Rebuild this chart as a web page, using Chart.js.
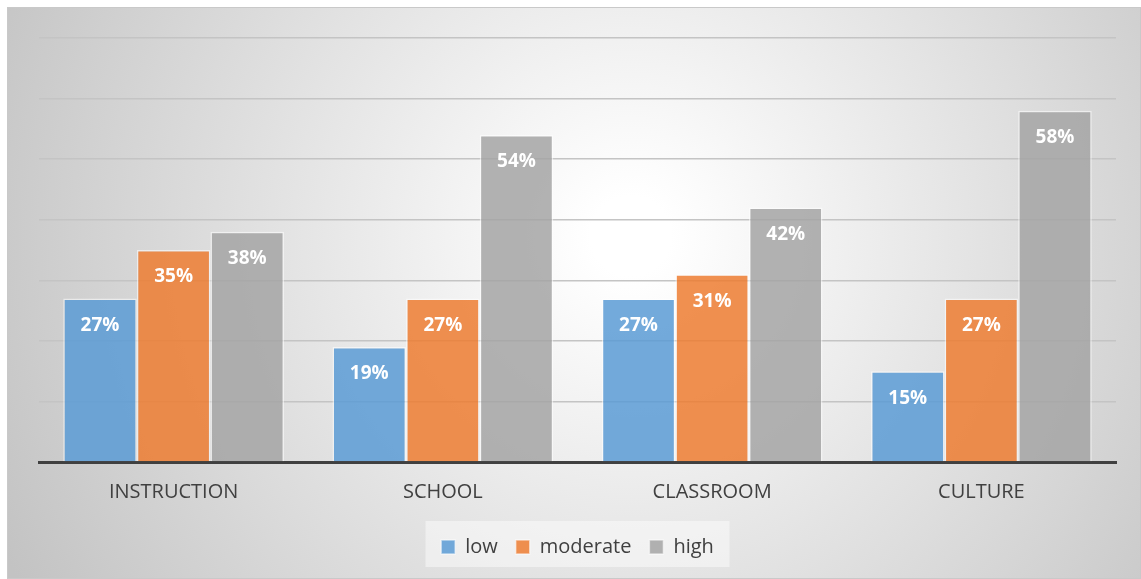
<!DOCTYPE html>
<html>
<head>
<meta charset="utf-8">
<script src="https://cdn.jsdelivr.net/npm/chart.js@4/dist/chart.umd.min.js"></script>
<style>
  html, body { margin: 0; padding: 0; background: #fff; }
  #wrap { position: absolute; left: 7px; top: 7px; width: 1132px; height: 570px; border: 1px solid #c9c9c9; }
</style>
</head>
<body>
<div id="wrap"><canvas id="chart" width="1132" height="570"></canvas></div>
<script>
// data
const categories = ['INSTRUCTION', 'SCHOOL', 'CLASSROOM', 'CULTURE']
const low = [27, 19, 27, 15]
const moderate = [35, 27, 31, 27]
const high = [38, 54, 42, 58]

const FONT = '"Open Sans", "Noto Sans", sans-serif'

// radial grey background + legend box
const background = {
  id: 'background',
  beforeDraw(chart) {
    const { ctx, width, height } = chart
    const g = ctx.createRadialGradient(width * 0.55, height * 0.4, 40, width * 0.55, height * 0.4, width * 0.62)
    g.addColorStop(0, '#ffffff')
    g.addColorStop(1, '#c3c3c3')
    ctx.save()
    ctx.fillStyle = g
    ctx.fillRect(0, 0, width, height)
    const lg = chart.legend
    ctx.fillStyle = 'rgba(255,255,255,0.45)'
    ctx.fillRect(lg.left + (lg.width - 304) / 2, lg.top + 2, 304, 46)
    ctx.restore()
  }
}

// white value labels inside the top of each bar
const valueLabels = {
  id: 'valueLabels',
  afterDatasetsDraw(chart) {
    const { ctx } = chart
    ctx.save()
    ctx.fillStyle = '#ffffff'
    ctx.font = 'bold 19px ' + FONT
    ctx.textAlign = 'center'
    ctx.textBaseline = 'middle'
    chart.data.datasets.forEach((ds, i) => {
      chart.getDatasetMeta(i).data.forEach((bar, j) => {
        ctx.fillText(ds.data[j] + '%', bar.x, bar.y + 27)
      })
    })
    ctx.restore()
  }
}

new Chart(document.getElementById('chart'), {
  type: 'bar',
  data: {
    labels: categories,
    datasets: [
      { label: 'low', data: low, backgroundColor: 'rgba(91,155,213,0.85)' },
      { label: 'moderate', data: moderate, backgroundColor: 'rgba(237,125,49,0.85)' },
      { label: 'high', data: high, backgroundColor: 'rgba(165,165,165,0.85)' }
    ].map(d => Object.assign(d, {
      borderColor: 'rgba(255,255,255,0.55)',
      borderWidth: 1.5,
      categoryPercentage: 0.82,
      barPercentage: 1
    }))
  },
  options: {
    responsive: false,
    animation: false,
    layout: { padding: { left: 31, right: 24, top: 30, bottom: 11 } },
    scales: {
      x: {
        grid: { display: false },
        border: { color: '#404040', width: 3 },
        ticks: { color: '#404040', font: { family: FONT, size: 20 }, padding: 10 },
        afterFit(scale) { scale.height += 5 }
      },
      y: {
        min: 0,
        max: 70,
        ticks: { stepSize: 10, display: false },
        grid: { color: '#c4c4c4', lineWidth: 1.5, drawTicks: false },
        border: { display: false }
      }
    },
    plugins: {
      tooltip: { enabled: false },
      legend: {
        position: 'bottom',
        labels: {
          color: '#404040',
          font: { family: FONT, size: 20 },
          boxWidth: 14,
          boxHeight: 14,
          padding: 18
        }
      }
    }
  },
  plugins: [background, valueLabels]
})
</script>
</body>
</html>
